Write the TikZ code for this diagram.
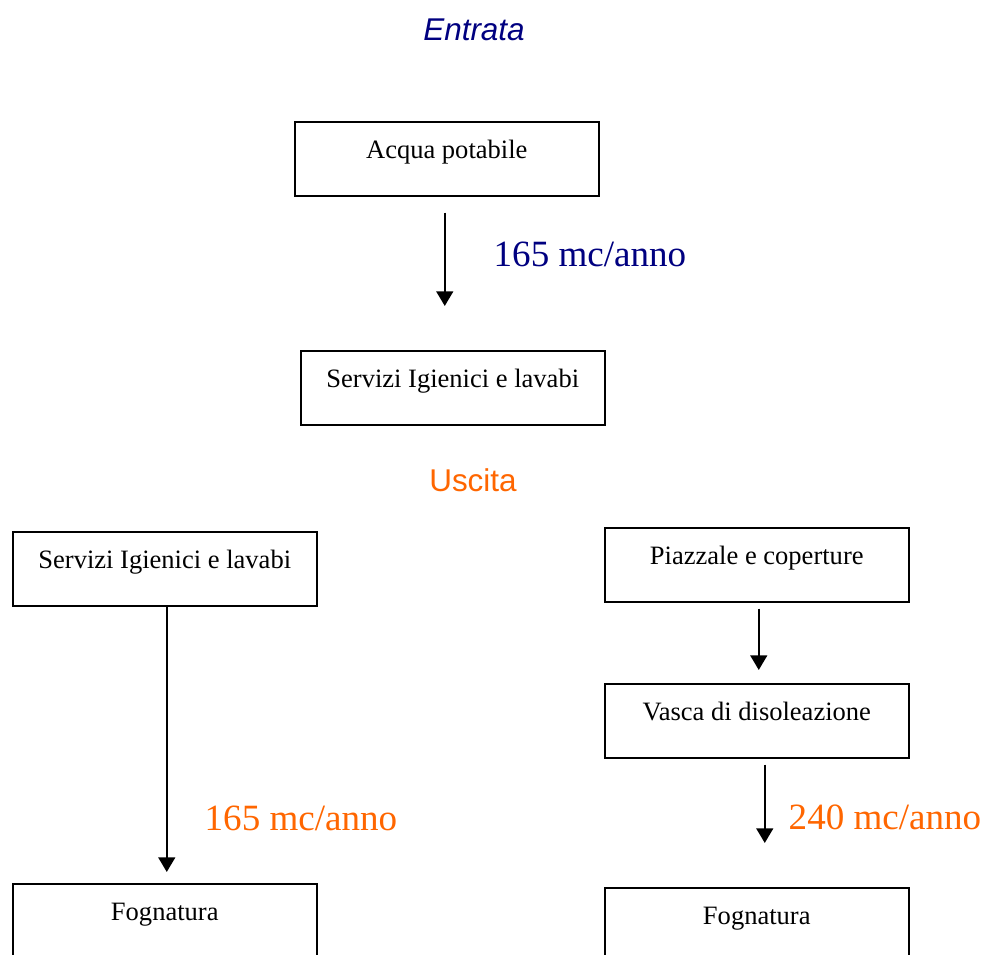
\documentclass[tikz,border=0pt]{standalone}
\usepackage{fontspec}
\setmainfont{Liberation Serif}
\newfontfamily\labelsans{Liberation Sans}
\usetikzlibrary{arrows.meta}

\definecolor{entrblue}{RGB}{0,0,128}
\definecolor{uscorange}{RGB}{255,102,0}

\begin{document}
\begin{tikzpicture}[
    x=0.75pt, y=-0.75pt,
    box/.style={draw, line width=1.15pt, minimum width=228pt, inner sep=0pt,
                text height=27.5pt, text depth=28pt,
                font=\fontsize{19.9}{24}\selectfont},
    title/.style={font=\labelsans\fontsize{23.6}{28}\selectfont, anchor=base},
    flow/.style={font=\fontsize{27.8}{33}\selectfont, anchor=base west},
    arr/.style={-{Triangle[length=11pt, width=12.5pt]}, line width=1.9pt},
  ]
  \useasboundingbox (0,0) rectangle (986,955);
  \clip (0,0) rectangle (986,955);

  % --- Entrata ---
  \node[title, font=\labelsans\itshape\fontsize{23.6}{28}\selectfont, text=entrblue] (entrata) at (474,41) {Entrata};
  \node[box, anchor=north west] (acqua) at (294,121) {Acqua potabile};
  \node[box, anchor=north west] (servin) at (300,350) {Servizi Igienici e lavabi};
  \draw[arr, shorten <=12pt, shorten >=33pt]
    ([xshift=-1.5pt]acqua.south) -- ([xshift=-1.5pt]acqua.south |- servin.north);
  \node[flow, text=entrblue] (qin) at (489,267) {165 mc/anno};

  % --- Uscita ---
  \node[title, text=uscorange] (uscita) at (473,492) {Uscita};

  % left branch
  \node[box, anchor=north west] (servout) at (12,531) {Servizi Igienici e lavabi};
  \node[box, anchor=north west] (fogn1) at (12,883) {Fognatura};
  \draw[arr, shorten >=8.25pt]
    ([xshift=1.5pt]servout.south) -- ([xshift=1.5pt]fogn1.north);
  \node[flow, text=uscorange] (qout1) at (200,830) {165 mc/anno};

  % right branch
  \node[box, anchor=north west] (piazzale) at (604,527) {Piazzale e coperture};
  \node[box, anchor=north west] (vasca) at (604,683) {Vasca di disoleazione};
  \node[box, anchor=north west] (fogn2) at (604,887) {Fognatura};
  \draw[arr, shorten <=4.5pt, shorten >=9.75pt]
    ([xshift=1.5pt]piazzale.south) -- ([xshift=1.5pt]vasca.north);
  \draw[arr, shorten <=4.5pt, shorten >=33pt]
    ([xshift=6pt]vasca.south) -- ([xshift=6pt]fogn2.north);
  \node[flow, text=uscorange] (qout2) at (784,829) {240 mc/anno};

\end{tikzpicture}
\end{document}
